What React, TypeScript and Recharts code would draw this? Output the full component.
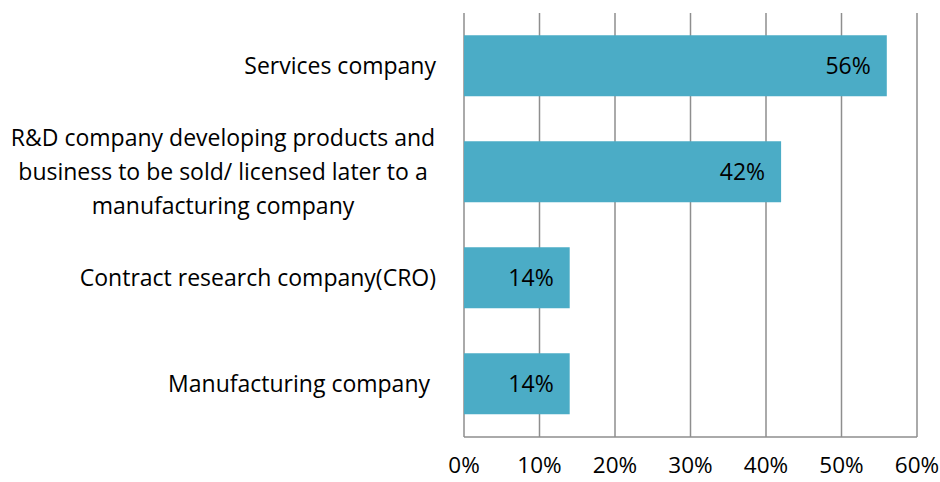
import { BarChart, Bar, XAxis, YAxis, CartesianGrid, LabelList } from "recharts";

const categories = [
  "Services company",
  "R&D company developing products and\nbusiness to be sold/ licensed later to a\nmanufacturing company",
  "Contract research company(CRO)",
  "Manufacturing company ",
];
const shares = [56, 42, 14, 14];
const xTicks = [0, 10, 20, 30, 40, 50, 60];

const data = categories.map((name, i) => ({ name, share: shares[i] }));

const FONT = "'Open Sans', sans-serif";
const GRID = "#8e8e8e";
const BAR = "#4bacc6";

function CategoryTick(props: any) {
  const { x, y, payload } = props;
  const lines: string[] = String(payload.value).split("\n");
  const lh = 34;
  const multi = lines.length > 1;
  return (
    <g>
      {lines.map((line, i) => (
        <text
          key={i}
          x={multi ? x - 239 : x - 26}
          y={y + (i - (lines.length - 1) / 2) * lh}
          dy="0.35em"
          textAnchor={multi ? "middle" : "end"}
          fontSize={23}
          fontFamily={FONT}
          fill="#000"
          style={{ whiteSpace: "pre" }}
        >
          {line}
        </text>
      ))}
    </g>
  );
}

export default function App() {
  return (
    <div style={{ width: 940, height: 482, background: "#fff" }}>
      <style>{`body{margin:0}`}</style>
      <BarChart
        width={940}
        height={482}
        data={data}
        layout="vertical"
        margin={{ top: 13, right: 23, bottom: 15, left: 0 }}
        barCategoryGap="21%"
      >
        <CartesianGrid horizontal={false} stroke={GRID} strokeWidth={1.5} />
        <XAxis
          type="number"
          domain={[0, 60]}
          ticks={xTicks}
          tickFormatter={(v) => `${v}%`}
          tick={{ fontSize: 22.5, fill: "#000", fontFamily: FONT }}
          tickLine={false}
          tickMargin={14}
          axisLine={{ stroke: GRID, strokeWidth: 1.5 }}
          interval={0}
          height={30}
        />
        <YAxis
          type="category"
          dataKey="name"
          width={464}
          tick={<CategoryTick />}
          tickLine={false}
          tickSize={0}
          axisLine={false}
          interval={0}
        />
        <Bar dataKey="share" fill={BAR} isAnimationActive={false}>
          <LabelList
            dataKey="share"
            position="insideRight"
            offset={16}
            formatter={(v: any) => `${v}%`}
            fill="#000"
            fontSize={23}
            fontFamily={FONT}
          />
        </Bar>
      </BarChart>
    </div>
  );
}
